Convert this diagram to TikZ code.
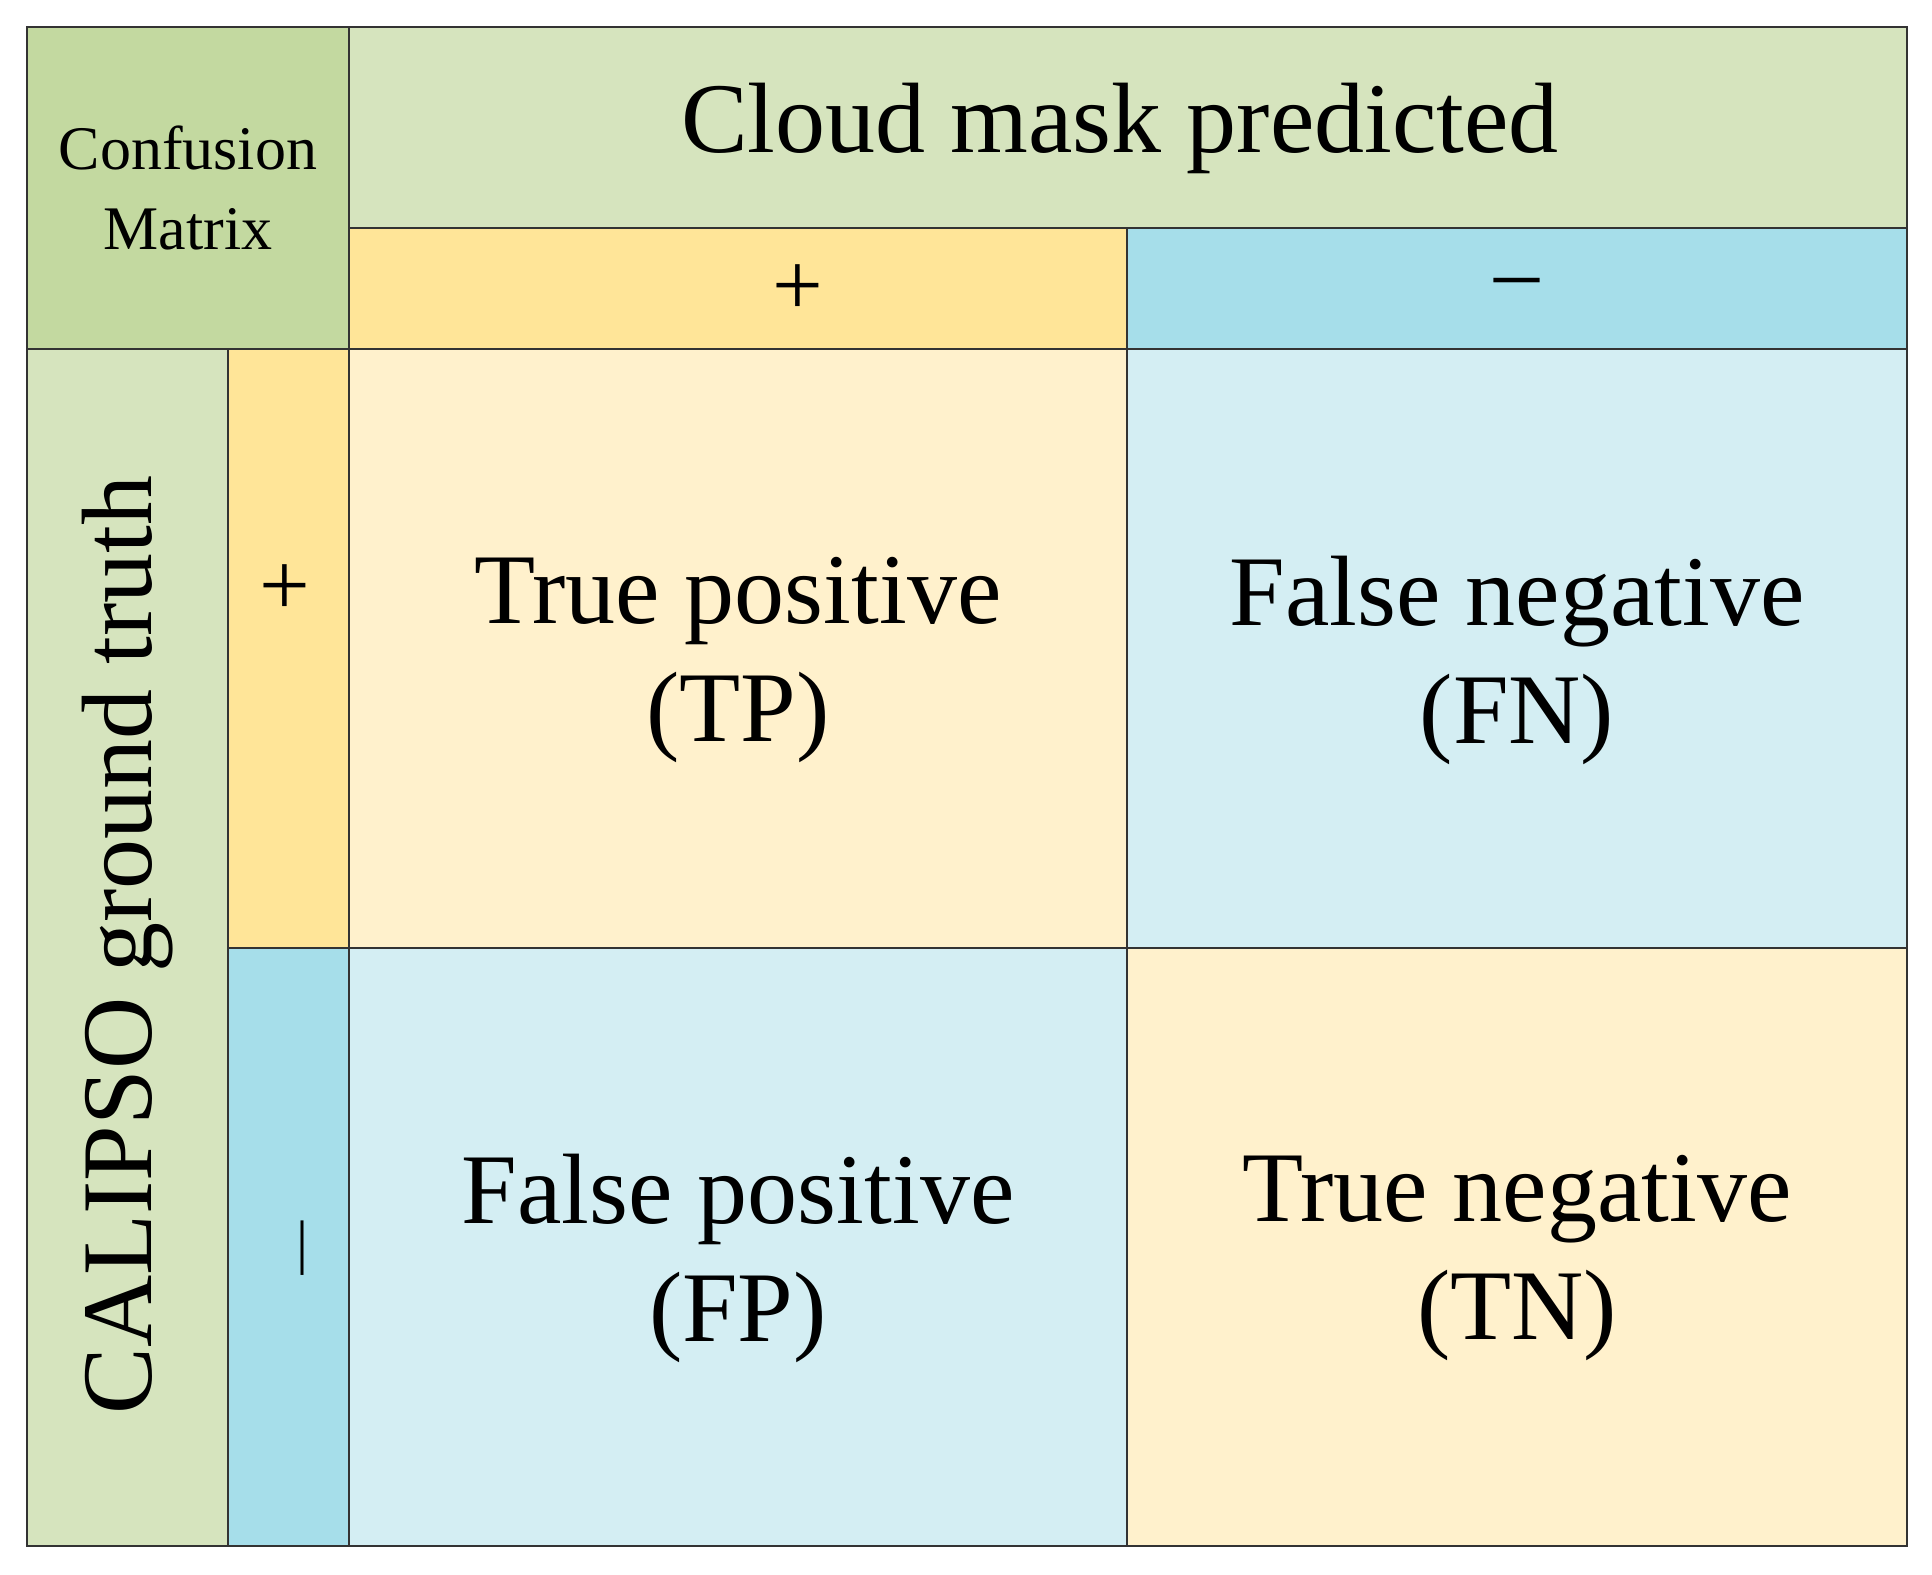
\documentclass[tikz,border=0pt]{standalone}
\usepackage{fontspec}
\setmainfont{Liberation Serif}
\definecolor{dg}{HTML}{C3D9A0}
\definecolor{lg}{HTML}{D6E4BE}
\definecolor{yl}{HTML}{FFE598}
\definecolor{bl}{HTML}{A6DEEA}
\definecolor{cr}{HTML}{FFF1CC}
\definecolor{cy}{HTML}{D4EEF3}
\begin{document}
\begin{tikzpicture}[x=1pt,y=-1pt,cell/.style={draw=black!80,line width=1.5pt},
 big/.style={font=\fontsize{100}{118}\selectfont,align=center}]
\useasboundingbox[fill=white] (0,0) rectangle (1932,1574);
\fill[dg,cell] (27,27) rectangle (349,349);
\fill[lg,cell] (349,27) rectangle (1907,228);
\fill[yl,cell] (349,228) rectangle (1127,349);
\fill[bl,cell] (1127,228) rectangle (1907,349);
\fill[lg,cell] (27,349) rectangle (228,1546);
\fill[yl,cell] (228,349) rectangle (349,948);
\fill[bl,cell] (228,948) rectangle (349,1546);
\fill[cr,cell] (349,349) rectangle (1127,948);
\fill[cy,cell] (1127,349) rectangle (1907,948);
\fill[cy,cell] (349,948) rectangle (1127,1546);
\fill[cr,cell] (1127,948) rectangle (1907,1546);
\node[align=center,font=\fontsize{62}{80}\selectfont] (cm) at (188,188) {Confusion\\Matrix};
\node[big] (cmp) at (1120,128) {Cloud mask predicted};
\node[font=\fontsize{90}{90}\selectfont] (pp) at (798,290) {+};
\node[font=\fontsize{90}{90}\selectfont] (pm) at (1517,290) {–};
\node[big,rotate=90] (gt) at (128,945) {CALIPSO ground truth};
\node[font=\fontsize{90}{90}\selectfont] (gp) at (285,590) {+};
\node[font=\fontsize{60}{60}\selectfont] (gm) at (303,1248) {|};
\node[big] (tp) at (738,660) {True positive\\(TP)};
\node[big] (fn) at (1517,660) {False negative\\(FN)};
\node[big] (fp) at (738,1258) {False positive\\(FP)};
\node[big] (tn) at (1517,1258) {True negative\\(TN)};
\end{tikzpicture}
\end{document}
